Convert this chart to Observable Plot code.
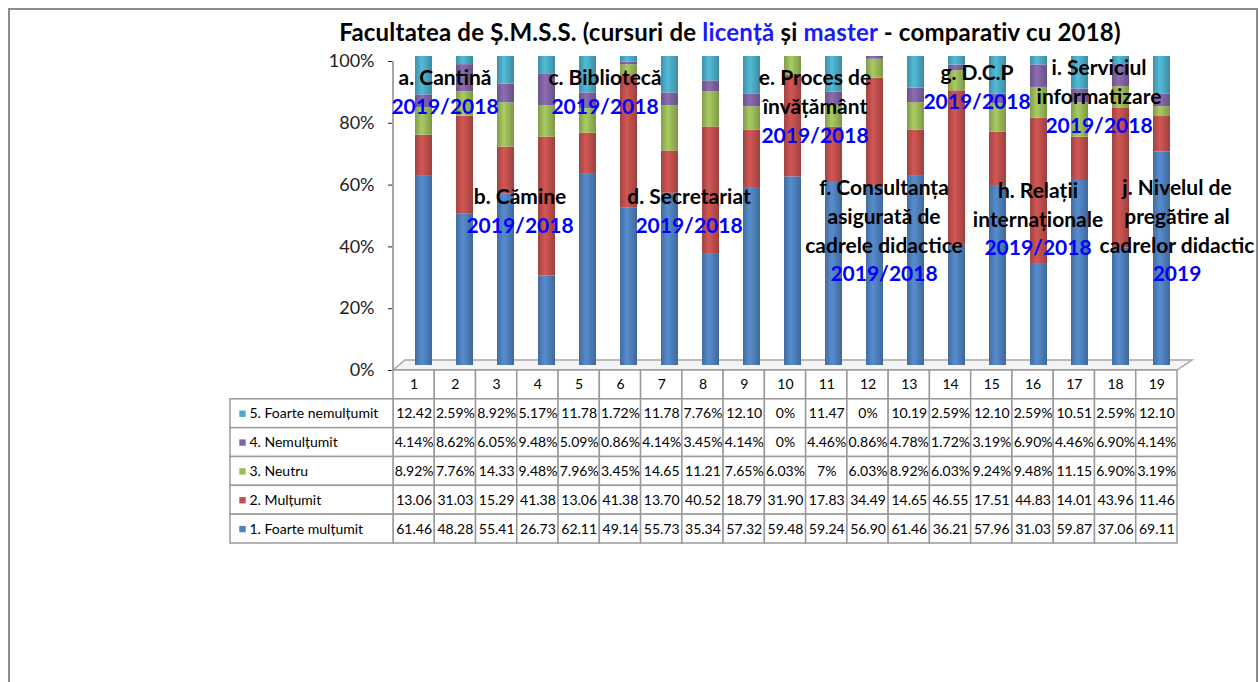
<!DOCTYPE html>
<html><head><meta charset="utf-8">
<script src="https://cdn.jsdelivr.net/npm/d3@7"></script>
<script src="https://cdn.jsdelivr.net/npm/@observablehq/plot@0.6"></script>
<style>
body{margin:0;background:#fff;font-family:Lato,sans-serif;}
#wrap{position:relative;width:1259px;height:682px;overflow:hidden;background:#fff;}
#frame{position:absolute;left:8px;top:8px;width:1246px;height:700px;border:2px solid #8c8c8c;}
#title{position:absolute;top:17px;left:730px;transform:translateX(-50%);white-space:nowrap;font:bold 24px Lato,sans-serif;letter-spacing:0.2px;color:#000;}
#title .b{color:#1a1aff;}
.layer{position:absolute;left:0;top:0;}
</style></head><body>
<div id="wrap">
  <div id="frame"></div>
  <div id="title">Facultatea de Ș.M.S.S. (cursuri de <span class="b">licență</span> și <span class="b">master</span> - comparativ cu 2018)</div>
  <div id="chart" class="layer"></div>
  <div id="table" class="layer"></div>
</div>
<script>
// ---- data ----
const categories = ["1","2","3","4","5","6","7","8","9","10","11","12","13","14","15","16","17","18","19"];
const series = ["1. Foarte mulțumit","2. Mulțumit","3. Neutru","4. Nemulțumit","5. Foarte nemulțumit"];
const foarteMultumit   = [61.46,48.28,55.41,26.73,62.11,49.14,55.73,35.34,57.32,59.48,59.24,56.90,61.46,36.21,57.96,31.03,59.87,37.06,69.11];
const multumit         = [13.06,31.03,15.29,41.38,13.06,41.38,13.70,40.52,18.79,31.90,17.83,34.49,14.65,46.55,17.51,44.83,14.01,43.96,11.46];
const neutru           = [8.92,7.76,14.33,9.48,7.96,3.45,14.65,11.21,7.65,6.03,7,6.03,8.92,6.03,9.24,9.48,11.15,6.90,3.19];
const nemultumit       = [4.14,8.62,6.05,9.48,5.09,0.86,4.14,3.45,4.14,0,4.46,0.86,4.78,1.72,3.19,6.90,4.46,6.90,4.14];
const foarteNemultumit = [12.42,2.59,8.92,5.17,11.78,1.72,11.78,7.76,12.10,0,11.47,0,10.19,2.59,12.10,2.59,10.51,2.59,12.10];
const seriesValues = [foarteMultumit, multumit, neutru, nemultumit, foarteNemultumit];
const yTicks = [0, 0.2, 0.4, 0.6, 0.8, 1];

// annotation texts
const annoLabels = ["a. Cantină","b. Cămine","c. Bibliotecă","d. Secretariat","e. Proces de\nînvățământ",
  "f. Consultanța\nasigurată de\ncadrele didactice","g. D.C.P","h. Relații\ninternaționale",
  "i. Serviciul\ninformatizare","j. Nivelul de\npregătire al\ncadrelor didactic"];
const annoYears = ["2019/2018","2019/2018","2019/2018","2019/2018","2019/2018","2019/2018","2019/2018","2019/2018","2019/2018","2019"];

// ---- layout / style (not data) ----
const colors = ["#4F81BD","#C0504D","#9BBB59","#8064A2","#4BACC6"];
const annoLayout = [
  {cat:"1", dx:28, y:0.945}, {cat:"3", dx:21, y:0.561}, {cat:"5", dx:24, y:0.945},
  {cat:"7", dx:26, y:0.561}, {cat:"10", dx:29, y:0.945}, {cat:"12", dx:16, y:0.589},
  {cat:"14", dx:27, y:0.961}, {cat:"16", dx:6, y:0.580}, {cat:"18", dx:-15, y:0.977},
  {cat:"19", dx:22, y:0.589}
];
const lineStep = 0.0929;

const data = categories.flatMap((c, i) => series.map((s, j) => ({cat: c, series: s, value: seriesValues[j][i]})));

const annoGroups = annoLabels.map((lab, k) => {
  const L = annoLayout[k];
  const lines = lab.split("\n");
  const out = lines.map((t, i) => ({cat: L.cat, y: L.y - i * lineStep, text: t, color: "#000"}));
  out.push({cat: L.cat, y: L.y - lines.length * lineStep, text: annoYears[k], color: "#0000FF"});
  return out;
});

const decor = (index, scales, values, dims) => {
  const g = d3.create("svg:g");
  const x0 = dims.marginLeft, x1 = dims.width - dims.marginRight;
  const y0 = scales.y(0), y1 = scales.y(1);
  g.append("path")
    .attr("d", `M${x0},${y0}L${x0+12},${y0-10}L${x1+15},${y0-10}L${x1},${y0}Z`)
    .attr("fill", "#f4f4f4").attr("stroke", "#a6a6a6").attr("stroke-width", 1.5);
  g.append("line").attr("x1", x0).attr("x2", x0).attr("y1", y0).attr("y2", y1)
    .attr("stroke", "#a6a6a6").attr("stroke-width", 2);
  return g.node();
};

const chart = Plot.plot({
  width: 1259, height: 372,
  marginTop: 61, marginBottom: 2, marginLeft: 393, marginRight: 82,
  style: {fontFamily: "Lato, sans-serif", fontSize: "18px", color: "#222", background: "transparent", overflow: "visible"},
  x: {domain: categories, padding: 0, axis: null},
  y: {domain: [0, 1], ticks: yTicks, tickFormat: d3.format(".0%"), tickSize: 5, tickPadding: 14, label: null},
  color: {domain: series, range: series.map((s, i) => `url(#cyl${i})`)},
  marks: [
    decor,
    Plot.barY(data, Plot.stackY({offset: "normalize"}, {x: "cat", y: "value", fill: "series", dx: 7, dy: -5, insetLeft: 12, insetRight: 12})),
    ...annoGroups.map((grp, k) => Plot.text(grp, {x: "cat", y: "y", dx: annoLayout[k].dx, text: "text", fill: "color", fontWeight: "bold", fontSize: 21}))
  ]
});
const defs = d3.select(chart).insert("defs", ":first-child");
colors.forEach((c, i) => {
  const gr = defs.append("linearGradient").attr("id", `cyl${i}`).attr("x1", 0).attr("x2", 1).attr("y1", 0).attr("y2", 0);
  gr.append("stop").attr("offset", "0%").attr("stop-color", d3.color(c).darker(0.5));
  gr.append("stop").attr("offset", "40%").attr("stop-color", d3.color(c).brighter(0.25));
  gr.append("stop").attr("offset", "100%").attr("stop-color", d3.color(c).darker(0.6));
});
document.getElementById("chart").append(chart);

// ---- table ----
const labelCols = 3.95;
const cells = [];
const headerCells = categories.map((c, i) => ({x1: i, x2: i + 1, y1: 0, y2: 1, text: c}));
const rowsTop = series.slice().reverse(); // top row = series 5
rowsTop.forEach((s, r) => {
  const j = series.indexOf(s);
  categories.forEach((c, i) => {
    const v = seriesValues[j][i];
    const t = v >= 10 ? v.toFixed(2) : (Number.isInteger(v) ? v + "%" : v.toFixed(2) + "%");
    cells.push({x1: i, x2: i + 1, y1: r + 1, y2: r + 2, text: t});
  });
});
const labelCells = rowsTop.map((s, r) => ({x1: -labelCols, x2: 0, y1: r + 1, y2: r + 2, text: s, color: colors[series.indexOf(s)]}));

const table = Plot.plot({
  width: 1259, height: 545,
  marginTop: 370, marginBottom: 2, marginLeft: 230, marginRight: 82,
  style: {fontFamily: "Lato, sans-serif", fontSize: "14px", color: "#000", background: "transparent", overflow: "visible"},
  x: {type: "linear", domain: [-labelCols, categories.length], axis: null},
  y: {type: "linear", domain: [6, 0], axis: null},
  color: {type: "identity"},
  marks: [
    Plot.rect(headerCells.concat(cells, labelCells), {x1: "x1", x2: "x2", y1: "y1", y2: "y2", fill: "white", stroke: "#9a9a9a", strokeWidth: 1.5}),
    Plot.text(headerCells.concat(cells), {x: d => (d.x1 + d.x2) / 2, y: d => (d.y1 + d.y2) / 2, text: "text", fill: "#000"}),
    Plot.dot(labelCells, {x: "x1", y: d => (d.y1 + d.y2) / 2, dx: 12, symbol: "square", r: 3.6, fill: "color", stroke: null}),
    Plot.text(labelCells, {x: "x1", y: d => (d.y1 + d.y2) / 2, dx: 19, text: "text", textAnchor: "start", fill: "#000"})
  ]
});
document.getElementById("table").append(table);
</script>
</body></html>
